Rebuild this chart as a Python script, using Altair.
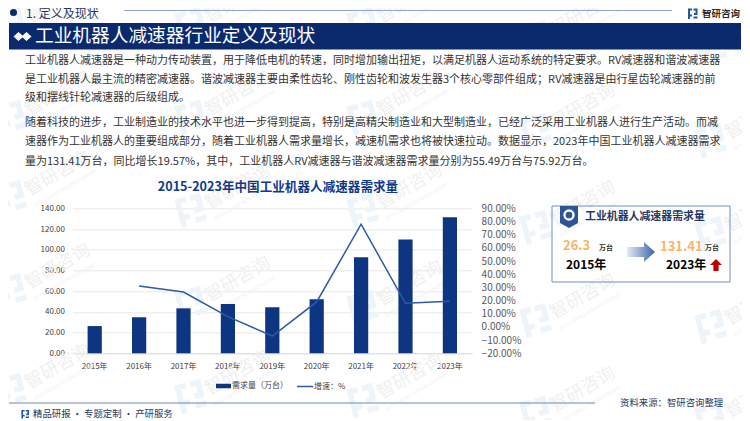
import altair as alt
import pandas as pd

FONT = "Noto Sans CJK SC"
NAVY = "#0B2A6E"
BAR = "#0E3581"
LINE = "#2C5AA5"
DARK = "#1F3864"
ORANGE = "#F7B468"

years = ["2015年", "2016年", "2017年", "2018年", "2019年", "2020年", "2021年", "2022年", "2023年"]
demand = [26.3, 34.8, 43.4, 47.6, 44.4, 52.1, 92.7, 109.9, 131.41]
growth_years = years[1:]
growth = [31.0, 26.5, 7.8, -6.9, 19.0, 77.9, 17.9, 19.57]

bar_name = "需求量（万台）"
line_name = "增速：%"
chart_title = "2015-2023年中国工业机器人减速器需求量"
left_ticks = [0, 20, 40, 60, 80, 100, 120, 140]
right_ticks = [-20, -10, 0, 10, 20, 30, 40, 50, 60, 70, 80, 90]

para_lines = [
    "工业机器人减速器是一种动力传动装置，用于降低电机的转速，同时增加输出扭矩，以满足机器人运动系统的特定要求。RV减速器和谐波减速器",
    "是工业机器人最主流的精密减速器。谐波减速器主要由柔性齿轮、刚性齿轮和波发生器3个核心零部件组成；RV减速器是由行星齿轮减速器的前",
    "级和摆线针轮减速器的后级组成。",
    "随着科技的进步，工业制造业的技术水平也进一步得到提高，特别是高精尖制造业和大型制造业，已经广泛采用工业机器人进行生产活动。而减",
    "速器作为工业机器人的重要组成部分，随着工业机器人需求量增长，减速机需求也将被快速拉动。数据显示，2023年中国工业机器人减速器需求",
    "量为131.41万台，同比增长19.57%，其中，工业机器人RV减速器与谐波减速器需求量分别为55.49万台与75.92万台。",
]
para_y = [61, 79.5, 97.5, 123, 142, 161.5]

# page coordinates of the plot area
PX, PY, PW, PH = 72.5, 208.3, 399.6, 145.0
def X(v): return alt.value(v - PX)
def Y(v): return alt.value(v - PY)

one = alt.Data(values=[{"k": 0}])

def txt(s, x, y, size, color, weight="normal", align="left", angle=0):
    return alt.Chart(one).mark_text(text=s, font=FONT, fontSize=size, color=color, fontWeight=weight,
                                    align=align, baseline="middle", angle=angle).encode(x=X(x), y=Y(y))

def rect(x0, x1, y0, y1, **kw):
    return alt.Chart(one).mark_rect(**kw).encode(x=X(x0), x2=X(x1), y=Y(y0), y2=Y(y1))

def shape(path, x, y, fill, angle=0, scale=1.0):
    # Vega draws a custom path at sqrt(size)/2, so size 4 is one path unit per pixel
    return alt.Chart(one).mark_point(shape=path, size=4 * scale * scale, filled=True, fill=fill, opacity=1,
                                     strokeWidth=0, angle=angle).encode(x=X(x), y=Y(y))

LOGO = "M-9 -10H-1V-6H-5V2H-1V6H-5V11H-9Z M2 -10H10V3H3V-1H6V-6H2Z M2 6H10V10H2Z"
DIAMOND = "M-5 0L0 -4.5L5 0L0 4.5Z"
PENTAGON = "M-9 -11H9V6L0 11L-9 6Z"
ARROW = "M-14 -5H3V-10L14 0L3 10V5H-14Z"
UP = "M0 -6L6 0H2.6V6H-2.6V0H-6Z"

layers = []

# watermark
wm_cols = {
    10: [24, 117, 197, 290, 390],
    190: [24, 117, 210, 303, 396],
    362: [24, 117, 210, 307, 400],
    535: [37, 130, 227, 320, 413],
    710: [47, 140, 233, 326, 419],
}
for cx, ys in wm_cols.items():
    for cy in ys:
        layers.append(shape(LOGO, cx, cy, "#EDF4FA", angle=345, scale=1.4))
        layers.append(txt("智研咨询", cx + 48, cy - 23, 18, "#F0F0F0", angle=330, align="center"))
        layers.append(txt("INTELLIGENCE RESEARCH GROUP", cx + 55, cy - 8, 4.5, "#F0F0F0", angle=330, align="center"))

# header
layers += [
    alt.Chart(one).mark_point(shape="circle", size=50, filled=True, fill=NAVY, opacity=1).encode(x=X(13.5), y=Y(12.5)),
    txt("1. 定义及现状", 26, 14, 12, DARK),
    alt.Chart(one).mark_rule(color="#8EA3CE", strokeWidth=1.2).encode(x=X(124), x2=X(672), y=Y(10.5)),
    shape(LOGO, 692.5, 13.5, "#2456A6", scale=0.5),
    txt("智研咨询", 702, 13.5, 9.5, "#2B2B2B", weight="bold"),
    rect(9, 741, 23, 49.5, fill=NAVY),
    shape(DIAMOND, 18.5, 36.5, "#FFFFFF"),
    shape(DIAMOND, 26.5, 36.5, "#FFFFFF"),
    txt("工业机器人减速器行业定义及现状", 35, 36, 18.7, "#FFFFFF"),
]
for s, y in zip(para_lines, para_y):
    layers.append(txt(s, 25, y, 11, "#333333"))

layers.append(txt(chart_title, 278, 187, 12.6, "#0F3A8C", weight="bold", align="center"))

# data layers
df_bar = pd.DataFrame({"year": years, "demand": demand, "series": [bar_name] * len(years)})
df_line = pd.DataFrame({"year": growth_years, "growth": growth, "series": [line_name] * len(growth)})

x_enc = alt.X("year:N", sort=years, scale=alt.Scale(domain=years, paddingInner=0.68, paddingOuter=0.34),
              axis=alt.Axis(title=None, labelAngle=0, labelFont=FONT, labelFontSize=8, labelColor="#404040",
                            ticks=False, domainColor="#DDDDDD", labelPadding=9, grid=False))

bars = alt.Chart(df_bar).mark_bar().encode(
    x=x_enc,
    y=alt.Y("demand:Q", scale=alt.Scale(domain=[0, 140], nice=False),
            axis=alt.Axis(title=None, values=left_ticks, format=".2f", orient="left", labelFont=FONT, labelFontSize=8,
                          labelColor="#404040", ticks=False, domain=False, grid=True, gridColor="#E8E8E8",
                          labelPadding=8)),
    color=alt.Color("series:N", scale=alt.Scale(domain=[bar_name], range=[BAR]),
                    legend=alt.Legend(orient="none", legendX=215 - PX, legendY=377.5 - PY, title=None,
                                      symbolType="M-1,-0.3H1V0.3H-1Z", symbolSize=225, labelFont=FONT,
                                      labelFontSize=8, labelColor="#404040", labelOffset=0, padding=0)),
)
line = alt.Chart(df_line).mark_line(strokeWidth=1.5).encode(
    x=alt.X("year:N", sort=years),
    y=alt.Y("growth:Q", scale=alt.Scale(domain=[-20, 90], nice=False),
            axis=alt.Axis(title=None, values=right_ticks, orient="right", labelExpr="format(datum.value,'.2f')+'%'",
                          labelFont=FONT, labelFontSize=10, labelColor="#595959", ticks=False, domain=False,
                          grid=False, labelPadding=9)),
    stroke=alt.Stroke("series:N", scale=alt.Scale(domain=[line_name], range=[LINE]),
                      legend=alt.Legend(orient="none", legendX=296 - PX, legendY=377.5 - PY, title=None,
                                        symbolType="stroke", symbolSize=256, symbolStrokeWidth=1.5, labelFont=FONT,
                                        labelFontSize=8, labelColor="#404040", labelOffset=0, padding=0)),
)
data_layer = alt.layer(bars, line).resolve_scale(y="independent")

# card
grad = alt.LinearGradient(gradient="linear", x1=0, y1=0, x2=1, y2=0,
                          stops=[alt.GradientStop(offset=0, color="#E6EBF5"),
                                 alt.GradientStop(offset=1, color="#3D63A8")])
card = [
    rect(552, 730, 206, 282, fill="#FFFFFF", fillOpacity=0, stroke="#6F8FC4", strokeWidth=1),
    shape(PENTAGON, 569, 217, "#2B5597"),
    alt.Chart(one).mark_point(shape="circle", size=130, filled=True, fill="#FFFFFF", opacity=1).encode(x=X(569), y=Y(215)),
    alt.Chart(one).mark_point(shape="circle", size=45, filled=True, fill="#2B5597", opacity=1).encode(x=X(569), y=Y(215)),
    txt("工业机器人减速器需求量", 585, 217, 10.9, DARK, weight="bold"),
    txt("26.3", 563, 246, 13, ORANGE, weight="bold"),
    txt("万台", 599, 248, 7, "#333333", weight="bold"),
    txt("2015年", 566, 265, 12, "#000000", weight="bold"),
    alt.Chart(one).mark_point(shape=ARROW, size=4, filled=True, fill=grad, opacity=1, strokeWidth=0).encode(x=X(641), y=Y(252)),
    txt("131.41", 660, 247, 13, ORANGE, weight="bold"),
    txt("万台", 705, 248, 7, "#333333", weight="bold"),
    txt("2023年", 666, 265, 12, "#000000", weight="bold"),
    shape(UP, 716, 265, "#C00000"),
]

# footer
footer = [
    alt.Chart(one).mark_rule(color="#6F86B5", strokeWidth=1).encode(x=X(9), x2=X(595), y=Y(403)),
    shape(LOGO, 25, 414, "#2456A6", scale=0.4),
    txt("精品研报 · 专题定制 · 产研服务", 33, 414, 9.4, DARK),
    txt("资料来源：智研咨询整理", 620, 403, 9.4, DARK),
]

chart = alt.layer(*layers, data_layer, *card, *footer).resolve_scale(y="independent").properties(
    width=PW, height=PH, background="#FFFFFF",
    padding={"left": PX - 8, "top": PY - 8, "right": 742 - PX - PW, "bottom": 412 + 8 - PY - PH},
    autosize=alt.AutoSizeParams(type="none"),
).configure_view(stroke=None)

chart.save("out.html", embed_options={"renderer": "svg", "actions": False})
